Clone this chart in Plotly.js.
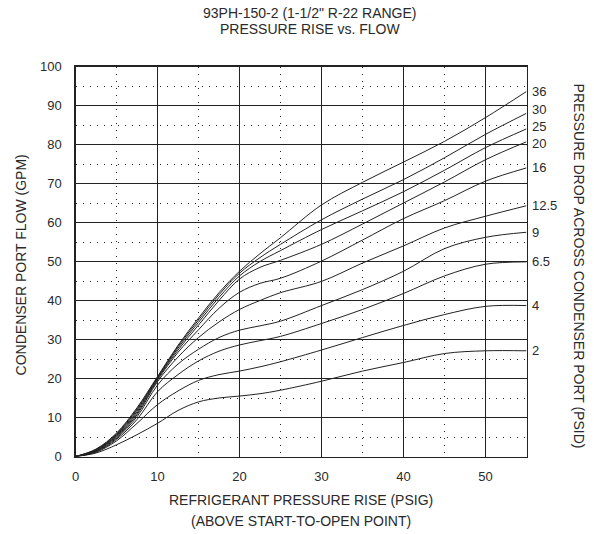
<!DOCTYPE html>
<html>
<head>
<meta charset="utf-8">
<script src="https://cdn.plot.ly/plotly-3.0.1.min.js"></script>
<style>
  html, body { margin: 0; padding: 0; background: #fff; }
  #chart { width: 594px; height: 534px; }
</style>
</head>
<body>
<div id="chart"></div>
<script>
// Refrigerant pressure rise above start-to-open point (PSIG)
const pressureRise = [0, 2.5, 5, 7.5, 10, 12.5, 15, 17.5, 20, 22.5, 25, 30, 35, 40, 45, 50, 55];

// Condenser port flow (GPM) for each pressure drop across the condenser port (PSID)
const dropLabels = ["36", "30", "25", "20", "16", "12.5", "9", "6.5", "4", "2"];
const flow36  = [0, 1.9, 6.0, 12.5, 20.5, 28.5, 35.5, 42.0, 47.5, 52.0, 56.1, 64.5, 70.3, 75.5, 80.8, 86.9, 93.6];
const flow30  = [0, 1.8, 5.8, 12.2, 20.3, 28.2, 35.0, 41.5, 47.0, 51.0, 54.4, 60.7, 66.0, 71.0, 76.6, 82.6, 88.0];
const flow25  = [0, 1.7, 5.6, 11.9, 20.1, 27.8, 34.4, 40.8, 46.3, 50.0, 52.8, 58.2, 63.0, 67.9, 73.4, 79.2, 84.0];
const flow20  = [0, 1.6, 5.4, 11.5, 19.9, 27.3, 33.7, 40.0, 45.5, 48.5, 50.3, 54.4, 59.6, 65.0, 70.4, 76.1, 80.7];
const flow16  = [0, 1.5, 5.2, 11.1, 19.6, 26.7, 32.5, 38.0, 42.1, 44.4, 45.7, 50.1, 55.5, 61.0, 65.6, 70.6, 74.0];
const flow125 = [0, 1.4, 5.0, 10.7, 19.2, 25.5, 30.5, 34.5, 37.7, 40.0, 42.0, 44.9, 49.6, 54.0, 58.6, 61.6, 64.3];
const flow9   = [0, 1.3, 4.7, 10.2, 18.3, 23.7, 27.5, 30.5, 32.4, 33.5, 34.7, 38.7, 42.8, 47.5, 53.3, 56.2, 57.5];
const flow65  = [0, 1.2, 4.4, 9.5, 16.6, 21.0, 24.5, 27.0, 28.6, 29.7, 30.8, 34.1, 37.7, 41.8, 46.3, 49.3, 49.9];
const flow4   = [0, 1.1, 4.0, 8.5, 13.3, 16.8, 19.5, 21.0, 21.9, 23.0, 24.3, 27.3, 30.5, 33.6, 36.4, 38.5, 38.7];
const flow2   = [0, 0.9, 3.0, 5.6, 8.5, 11.8, 14.0, 15.0, 15.5, 16.1, 17.0, 19.3, 21.9, 24.1, 26.4, 27.1, 27.1];

const flowSeries = [flow36, flow30, flow25, flow20, flow16, flow125, flow9, flow65, flow4, flow2];

// Small vertical nudges (px) so neighbouring end labels do not collide
const labelNudge = { "30": 4, "25": 2, "20": -2 };

const ink = "#222222";
const fontFamily = "Liberation Sans, Arial, sans-serif";
const tickFont = { family: fontFamily, size: 13, color: "#2a2a2a" };
const titleFont = { family: fontFamily, size: 14, color: "#2a2a2a" };

const traces = flowSeries.map((ys, i) => ({
  type: "scatter",
  mode: "lines",
  name: dropLabels[i] + " PSID",
  x: pressureRise,
  y: ys,
  line: { color: ink, width: 1, shape: "spline", smoothing: 1 },
  hoverinfo: "x+y+name"
}));

// Curve labels at the right-hand end of each line
const endLabels = flowSeries.map((ys, i) => ({
  xref: "x", yref: "y",
  x: pressureRise[pressureRise.length - 1],
  y: ys[ys.length - 1],
  text: dropLabels[i],
  showarrow: false,
  xanchor: "left",
  yanchor: "middle",
  xshift: 3,
  yshift: labelNudge[dropLabels[i]] || 0,
  font: tickFont
}));

function paperText(text, x, y, angle) {
  return {
    xref: "paper", yref: "paper", x: x, y: y,
    text: text, showarrow: false,
    xanchor: "center", yanchor: "middle",
    textangle: angle || 0,
    font: titleFont
  };
}

const textNotes = [
  paperText("93PH-150-2 (1-1/2\" R-22 RANGE)", 0.52, 1.136),
  paperText("PRESSURE RISE vs. FLOW", 0.52, 1.094),
  paperText("REFRIGERANT PRESSURE RISE (PSIG)", 0.5, -0.110),
  paperText("(ABOVE START-TO-OPEN POINT)", 0.5, -0.164),
  paperText("CONDENSER PORT FLOW (GPM)", -0.120, 0.492, -90),
  paperText("PRESSURE DROP ACROSS CONDENSER PORT (PSID)", 1.115, 0.487, 90)
];

// Plot box: 451 px wide, 390 px tall, placed on half-pixel offsets so 1px rules stay sharp
const marginL = 75, marginR = 67, marginT = 66, marginB = 77;
const boxW = 594 - marginL - marginR;   // 452
const boxH = 534 - marginT - marginB;   // 391
const xDomain = [0.5 / boxW, 1 - 0.5 / boxW];
const yDomain = [0.5 / boxH, 1 - 0.5 / boxH];

const axisCommon = {
  showgrid: true,
  gridcolor: "#222222",
  gridwidth: 1.2,
  zeroline: false,
  showline: true,
  linecolor: "#222222",
  linewidth: 1.2,
  mirror: true,
  ticks: "",
  dtick: 10,
  tick0: 0,
  tickfont: tickFont,
  minor: { dtick: 5, showgrid: true, gridcolor: "#222222", gridwidth: 1, griddash: "1px,6px" }
};

const layout = {
  width: 594,
  height: 534,
  margin: { l: marginL, r: marginR, t: marginT, b: marginB },
  paper_bgcolor: "#ffffff",
  plot_bgcolor: "#ffffff",
  showlegend: false,
  font: tickFont,
  xaxis: Object.assign({}, axisCommon, { range: [0, 55], domain: xDomain, ticklabelstandoff: 8 }),
  yaxis: Object.assign({}, axisCommon, { range: [0, 100], domain: yDomain, ticklabelstandoff: 10 }),
  annotations: endLabels.concat(textNotes)
};

Plotly.newPlot("chart", traces, layout, { displayModeBar: false, staticPlot: true });
</script>
</body>
</html>
